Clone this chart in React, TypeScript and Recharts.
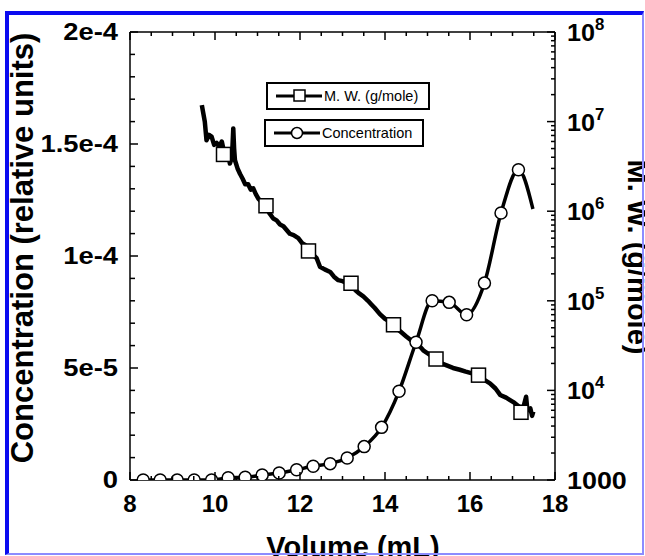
import React from 'react';
import { ComposedChart, Line, XAxis, YAxis } from 'recharts';

const FONT = '"Liberation Sans", Arial, Helvetica, sans-serif';

// concentration trace (relative units), one circle every 0.4 mL, last point has no marker
const concVolume = [8.31, 8.71, 9.11, 9.51, 9.92, 10.31, 10.71, 11.11, 11.51, 11.92, 12.31, 12.71,
  13.11, 13.51, 13.92, 14.33, 14.73, 15.11, 15.51, 15.92, 16.34, 16.73, 17.14, 17.48];
const concValue = [0, 0, 0, 0, 0, 1.0e-6, 1.2e-6, 2.2e-6, 3.1e-6, 4.6e-6, 6.1e-6, 7.3e-6,
  9.8e-6, 1.49e-5, 2.35e-5, 3.96e-5, 6.15e-5, 8.0e-5, 7.93e-5, 7.38e-5, 8.79e-5, 1.192e-4, 1.385e-4, 1.21e-4];

// molecular weight trace (g/mole)
const mwVolume = [9.69, 9.76, 9.8, 9.86, 9.92, 9.98, 10.04, 10.1, 10.16, 10.22, 10.31, 10.35, 10.4, 10.43,
  10.45, 10.47, 10.53, 10.59, 10.65, 10.71, 10.78, 10.84, 10.9, 10.96, 11.02, 11.1, 11.2, 11.28, 11.37,
  11.45, 11.53, 11.61, 11.68, 11.76, 11.85, 11.96, 12.05, 12.12, 12.2, 12.3, 12.39, 12.47, 12.58, 12.71,
  12.8, 12.9, 13.0, 13.1, 13.19, 13.3, 13.4, 13.49, 13.6, 13.68, 13.76, 13.88, 14.0, 14.1, 14.2, 14.35,
  14.5, 14.59, 14.7, 14.82, 14.9, 15.05, 15.2, 15.33, 15.45, 15.6, 15.76, 15.9, 16.05, 16.2, 16.33, 16.47,
  16.6, 16.71, 16.85, 17.02, 17.15, 17.25, 17.32, 17.35, 17.42, 17.46, 17.49];
const mwValue = [1.53e7, 1.0e7, 6.2e6, 7.1e6, 6.8e6, 5.5e6, 5.8e6, 5.2e6, 6.0e6, 4.4e6, 4.5e6, 3.4e6, 4.0e6, 8.4e6,
  5.0e6, 3.7e6, 3.0e6, 2.6e6, 2.3e6, 2.0e6, 2.0e6, 1.74e6, 1.8e6, 1.55e6, 1.38e6, 1.26e6, 1.15e6, 9.5e5, 8.3e5,
  7.9e5, 7.1e5, 6.8e5, 6.2e5, 5.6e5, 5.4e5, 5.0e5, 4.4e5, 4.2e5, 3.6e5, 3.3e5, 3.0e5, 2.4e5, 2.24e5, 2.1e5,
  1.86e5, 1.7e5, 1.66e5, 1.58e5, 1.57e5, 1.32e5, 1.2e5, 1.12e5, 1.0e5, 9.1e4, 8.3e4, 7.1e4, 6.3e4, 5.9e4, 5.4e4, 4.6e4,
  4.0e4, 3.7e4, 3.3e4, 3.1e4, 2.8e4, 2.5e4, 2.24e4, 2.0e4, 1.9e4, 1.78e4, 1.7e4, 1.62e4, 1.55e4, 1.48e4, 1.32e4, 1.2e4,
  1.05e4, 8.9e3, 8.3e3, 7.4e3, 6.6e3, 6.3e3, 8.5e3, 6.0e3, 6.3e3, 5.2e3, 5.8e3];

// square markers on the M.W. curve
const mwMarkVolume = [10.2, 11.2, 12.2, 13.2, 14.2, 15.2, 16.2, 17.2];
const mwMarkValue = [4.3e6, 1.15e6, 3.6e5, 1.57e5, 5.4e4, 2.24e4, 1.48e4, 5.7e3];

// axes
const volumeMajor = [8, 10, 12, 14, 16, 18];
const volumeTicks = [8, 8.5, 9, 9.5, 10, 10.5, 11, 11.5, 12, 12.5, 13, 13.5, 14, 14.5, 15, 15.5, 16, 16.5, 17, 17.5, 18];
const concTicks = [0, 1e-5, 2e-5, 3e-5, 4e-5, 5e-5, 6e-5, 7e-5, 8e-5, 9e-5, 1e-4, 1.1e-4, 1.2e-4, 1.3e-4,
  1.4e-4, 1.5e-4, 1.6e-4, 1.7e-4, 1.8e-4, 1.9e-4, 2e-4];
const concMajor = [0, 5e-5, 1e-4, 1.5e-4, 2e-4];
const concMajorLabels = ['0', '5e-5', '1e-4', '1.5e-4', '2e-4'];
const mwDecades = [1e3, 1e4, 1e5, 1e6, 1e7];
const mwMantissas = [1, 2, 3, 4, 5, 6, 7, 8, 9];

const seriesNames = ['M. W. (g/mole)', 'Concentration'];

const mwTicks = [...mwDecades.flatMap(d => mwMantissas.map(m => m * d)), 1e8];

const same = (a: number, b: number) => Math.abs(a - b) <= Math.abs(b) * 1e-6 + 1e-12;

const labelStyle = { fontFamily: FONT, fontWeight: 700, fill: '#000' } as const;

const VolumeTick = (props: any) => {
  const { x, y, payload, top } = props;
  const major = volumeMajor.some(v => same(v, payload.value));
  const len = major ? 8 : 4;
  return (
    <g>
      <line x1={x} x2={x} y1={y} y2={top ? y + len : y - len} stroke="#000" strokeWidth={1.5} />
      {!top && major && (
        <text x={x} y={y + 32} textAnchor="middle" fontSize={24} {...labelStyle}>{payload.value}</text>
      )}
    </g>
  );
};

const ConcTick = (props: any) => {
  const { x, y, payload } = props;
  const i = concMajor.findIndex(v => same(v, payload.value));
  return (
    <g>
      <line x1={x} x2={x + (i >= 0 ? 8 : 5)} y1={y} y2={y} stroke="#000" strokeWidth={1.5} />
      {i >= 0 && (
        <text transform={`translate(${x - 12},${y + 8}) scale(1.14,1)`} textAnchor="end" fontSize={24} {...labelStyle}>
          {concMajorLabels[i]}
        </text>
      )}
    </g>
  );
};

const MwTick = (props: any) => {
  const { x, y, payload } = props;
  const exp = Math.log10(payload.value);
  const decade = Math.abs(exp - Math.round(exp)) < 1e-6;
  return (
    <g>
      <line x1={x} x2={x - (decade ? 8 : 4)} y1={y} y2={y} stroke="#000" strokeWidth={1.5} />
      {decade && (payload.value === 1000 ? (
        <text transform={`translate(${x + 12},${y + 9}) scale(1.12,1)`} fontSize={24} {...labelStyle}>1000</text>
      ) : (
        <text transform={`translate(${x + 12},${y + 9}) scale(1.05,1)`} fontSize={24} {...labelStyle}>
          10<tspan dy={-11} fontSize={16}>{Math.round(exp)}</tspan>
        </text>
      ))}
    </g>
  );
};

const SquareDot = (props: any) => {
  const { cx, cy, index } = props;
  if (cx == null || cy == null) return <g key={`sq-${index}`} />;
  return <rect key={`sq-${index}`} x={cx - 7} y={cy - 7} width={14} height={14} fill="#fff" stroke="#000" strokeWidth={1.5} />;
};

const CircleDot = (props: any) => {
  const { cx, cy, index } = props;
  if (cx == null || cy == null || index === concVolume.length - 1) return <g key={`ci-${index}`} />;
  return <circle key={`ci-${index}`} cx={cx} cy={cy} r={6} fill="#fff" stroke="#000" strokeWidth={1.5} />;
};

const LegendBox = ({ top, left, width, name, marker }: any) => (
  <div style={{ position: 'absolute', top, left, width, height: 28, boxSizing: 'border-box', border: '2px solid #000', background: '#fff' }}>
    <svg width={60} height={24} style={{ position: 'absolute', left: 4, top: 0 }}>
      <line x1={4} x2={50} y1={12} y2={12} stroke="#000" strokeWidth={3} />
      {marker === 'square'
        ? <rect x={22} y={6} width={11} height={11} fill="#fff" stroke="#000" strokeWidth={1.5} />
        : <circle cx={27} cy={12} r={5.5} fill="#fff" stroke="#000" strokeWidth={1.5} />}
    </svg>
    <span style={{ position: 'absolute', left: 56, top: 3, fontFamily: FONT, fontSize: 14.5, lineHeight: '18px', whiteSpace: 'nowrap' }}>{name}</span>
  </div>
);

export default function App() {
  const concData = concVolume.map((x, i) => ({ x, y: concValue[i] }));
  const mwData = mwVolume.map((x, i) => ({ x, y: mwValue[i] }));
  const mwMarks = mwMarkVolume.map((x, i) => ({ x, y: mwMarkValue[i] }));
  const axisLine = { stroke: '#000', strokeWidth: 1.5 };

  return (
    <div style={{ position: 'absolute', left: 0, top: 0, width: 645, height: 556, background: '#fff', overflow: 'hidden' }}>
      <ComposedChart width={645} height={556} margin={{ top: 22, right: 20, bottom: 46, left: 60 }}>
        <XAxis xAxisId="bottom" dataKey="x" type="number" domain={[8, 18]} ticks={volumeTicks} interval={0}
          height={30} tickSize={0} tickMargin={0} tickLine={false} axisLine={axisLine}
          tick={<VolumeTick />} allowDataOverflow />
        <XAxis xAxisId="top" orientation="top" dataKey="x" type="number" domain={[8, 18]} ticks={volumeTicks} interval={0}
          height={10} tickSize={0} tickMargin={0} tickLine={false} axisLine={axisLine}
          tick={<VolumeTick top />} allowDataOverflow />
        <YAxis yAxisId="conc" type="number" domain={[0, 2e-4]} ticks={concTicks} interval={0}
          width={70} tickSize={0} tickMargin={0} tickLine={false} axisLine={axisLine}
          tick={<ConcTick />} allowDataOverflow />
        <YAxis yAxisId="mw" orientation="right" type="number" scale="log" domain={[1000, 1e8]} ticks={mwTicks} interval={0}
          width={70} tickSize={0} tickMargin={0} tickLine={false} axisLine={axisLine}
          tick={<MwTick />} allowDataOverflow />
        <Line xAxisId="bottom" yAxisId="mw" data={mwData} dataKey="y" name={seriesNames[0]} type="linear"
          stroke="#000" strokeWidth={4.5} strokeLinejoin="round" dot={false} isAnimationActive={false} />
        <Line xAxisId="bottom" yAxisId="mw" data={mwMarks} dataKey="y" stroke="none" legendType="none"
          dot={SquareDot} activeDot={false} isAnimationActive={false} />
        <Line xAxisId="bottom" yAxisId="conc" data={concData} dataKey="y" name={seriesNames[1]} type="monotone"
          stroke="#000" strokeWidth={3.5} dot={CircleDot} activeDot={false} isAnimationActive={false} />
      </ComposedChart>

      <svg width={645} height={556} style={{ position: 'absolute', left: 0, top: 0, pointerEvents: 'none' }}>
        <text transform="translate(33,248) rotate(-90)" textAnchor="middle" fontSize={31} {...labelStyle}>
          Concentration (relative units)
        </text>
        <text transform="translate(628,257) rotate(90)" textAnchor="middle" fontSize={29} {...labelStyle}>
          M. W. (g/mole)
        </text>
        <text x={353} y={557} textAnchor="middle" fontSize={29} {...labelStyle}>Volume (mL)</text>
      </svg>

      <LegendBox top={82} left={266} width={164} name={seriesNames[0]} marker="square" />
      <LegendBox top={119} left={264} width={160} name={seriesNames[1]} marker="circle" />

      <div style={{ position: 'absolute', left: 5, top: 11, width: 639, height: 544, boxSizing: 'border-box',
        borderLeft: '4px solid #0b0bf0', borderTop: '4px solid #0b0bf0', borderRight: '2px solid #8c8cff',
        borderBottom: '2px solid #8c8cff', pointerEvents: 'none' }} />
    </div>
  );
}
